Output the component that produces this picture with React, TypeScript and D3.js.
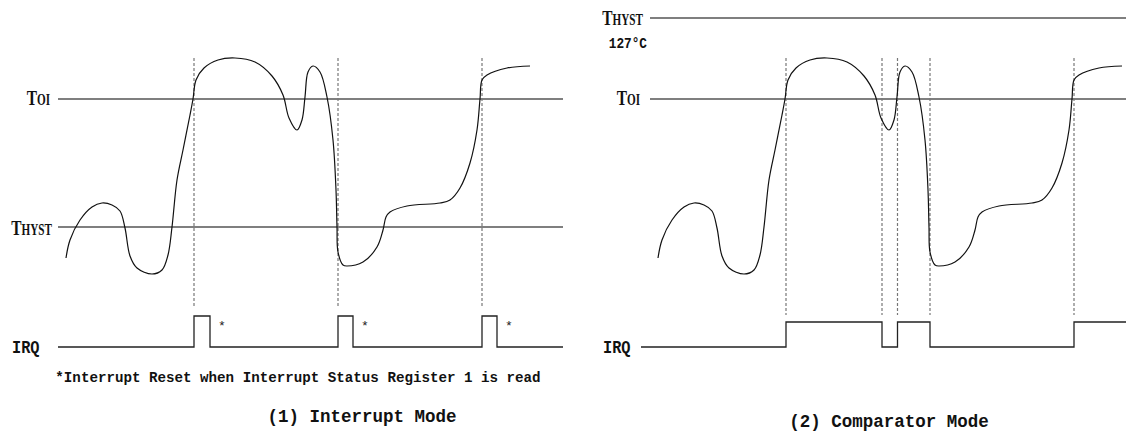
import * as d3 from "d3";
import { useEffect, useRef } from "react";

// temperature trace: [time, level]
// level units: T_OI = 100, T_HYST (interrupt mode) = 36
const traceTime = [
    8, 12, 22, 34, 44, 54, 62, 67, 72, 79, 94, 104, 110, 114, 119, 125, 132, 135, 138, 146,
    160, 177, 197, 214, 225, 231, 239, 244, 247, 250, 255, 262, 269, 275, 278, 279, 280, 285,
    289, 305, 319, 325, 328, 332, 349, 382, 392, 402, 412, 419, 422, 424, 429, 449, 472,
];
const traceLevel = [
    20.5, 29.5, 39.5, 46, 48, 47, 44, 35.5, 21.5, 15.5, 12.5, 14.5, 22, 36, 59.5, 74.5, 92, 100, 109.5, 115.5,
    119.5, 120.5, 118.5, 111.5, 102, 90.5, 84.5, 89.5, 101, 113.5, 116.5, 113.5, 101, 79.5, 54.5, 36, 23.5, 17,
    16.5, 18.5, 26, 34.5, 41, 43.5, 46.5, 48, 49.5, 55.5, 68, 84.5, 100, 109.5, 112, 115.5, 116.5,
];

const T_OI = 100;
const T_HYST_INT = 36;
const T_HYST_CMP = 140.5;

// events (dashed markers) per mode
const interruptEvents = [136, 280, 424];
const comparatorEvents = [136, 232, 247.5, 280, 424];

// IRQ high intervals
const interruptPulses = [[136, 152], [280, 295], [424, 439]];
const comparatorHigh = [[136, 232], [247.5, 280], [424, 480]];

const footnote = "*Interrupt Reset when Interrupt Status Register 1 is read";
const titles = ["(1) Interrupt Mode", "(2) Comparator Mode"];

const WIDTH = 1126;
const HEIGHT = 435;

const MONO = "'Liberation Mono', 'DejaVu Sans Mono', monospace";
const SERIF = "'Liberation Serif', 'DejaVu Serif', serif";

function App() {
    const svgRef = useRef<SVGSVGElement | null>(null);

    useEffect(() => {
        if (!svgRef.current) return;
        const svg = d3.select(svgRef.current);
        svg.selectAll("*").remove();

        const y = d3.scaleLinear().domain([36, 100]).range([227, 99]);
        const irqLow = 347;

        const points = traceTime.map((t, i) => [t, traceLevel[i]] as [number, number]);

        const drawPanel = (originX: number, endX: number, mode: "int" | "cmp") => {
            const x = d3.scaleLinear().domain([0, 100]).range([originX, originX + 100]);
            const g = svg.append("g");

            // reference levels
            const levelLine = (lvl: number) =>
                g.append("line")
                    .attr("x1", x(0)).attr("x2", endX)
                    .attr("y1", y(lvl)).attr("y2", y(lvl))
                    .attr("stroke", "#555").attr("stroke-width", 1.3);

            // condensed "T" + small caps subscript label
            const tLabel = (sub: string, right: number, yy: number) => {
                const t = g.append("g")
                    .attr("transform", `translate(${right},${yy}) scale(0.7,1)`)
                    .append("text")
                    .attr("text-anchor", "end")
                    .attr("font-family", SERIF)
                    .attr("font-weight", "bold")
                    .attr("fill", "#111");
                t.append("tspan").attr("font-size", 22).text("T");
                t.append("tspan").attr("font-size", 16).text(sub);
            };

            levelLine(T_OI);
            if (mode === "int") {
                levelLine(T_HYST_INT);
                tLabel("OI", x(-8), y(T_OI) + 6);
                tLabel("HYST", x(-6), y(T_HYST_INT) + 8);
            } else {
                levelLine(T_HYST_CMP);
                tLabel("OI", x(-10), y(T_OI) + 6);
                tLabel("HYST", x(-7), y(T_HYST_CMP) + 7);
                g.append("g")
                    .attr("transform", `translate(${x(-3)},48) scale(0.85,1)`)
                    .append("text")
                    .attr("text-anchor", "end")
                    .attr("font-family", MONO)
                    .attr("font-weight", "bold")
                    .attr("font-size", 15)
                    .attr("fill", "#111")
                    .text("127°C");
            }

            // event markers
            const events = mode === "int" ? interruptEvents : comparatorEvents;
            const dashBottom = mode === "int" ? 308 : 315;
            g.selectAll(".ev")
                .data(events)
                .enter()
                .append("line")
                .attr("x1", d => x(d)).attr("x2", d => x(d))
                .attr("y1", 58).attr("y2", dashBottom)
                .attr("stroke", "#777")
                .attr("stroke-width", 1.2)
                .attr("stroke-dasharray", "3,2");

            // temperature trace
            const line = d3.line<[number, number]>()
                .x(d => x(d[0]))
                .y(d => y(d[1]))
                .curve(d3.curveCatmullRom.alpha(0.5));
            g.append("path")
                .attr("d", line(points) ?? "")
                .attr("fill", "none")
                .attr("stroke", "#111")
                .attr("stroke-width", 1.2);

            // IRQ waveform
            const highY = mode === "int" ? 316 : 322;
            const startT = mode === "int" ? 0 : -9;
            const endT = mode === "int" ? 505 : 480;
            const spans = mode === "int" ? interruptPulses : comparatorHigh;
            const wave: [number, number][] = [[startT, irqLow]];
            spans.forEach(([a, b]) => {
                wave.push([a, irqLow], [a, highY], [Math.min(b, endT), highY]);
                if (b < endT) wave.push([b, irqLow]);
            });
            if (spans[spans.length - 1][1] < endT) wave.push([endT, irqLow]);
            g.append("path")
                .attr("d", d3.line<[number, number]>().x(d => x(d[0])).y(d => d[1])(wave) ?? "")
                .attr("fill", "none")
                .attr("stroke", "#222")
                .attr("stroke-width", 1.3);

            g.append("g")
                .attr("transform", `translate(${x(mode === "int" ? -46 : -47)},${irqLow + 6}) scale(0.85,1)`)
                .append("text")
                .attr("font-family", MONO)
                .attr("font-weight", "bold")
                .attr("font-size", 18)
                .attr("fill", "#111")
                .text("IRQ");

            if (mode === "int") {
                g.selectAll(".star")
                    .data(interruptPulses)
                    .enter()
                    .append("text")
                    .attr("x", d => x(d[1] + 12))
                    .attr("y", 330)
                    .attr("text-anchor", "middle")
                    .attr("font-family", MONO)
                    .attr("font-size", 13)
                    .attr("fill", "#222")
                    .text("*");

                g.append("text")
                    .attr("x", 298).attr("y", 382)
                    .attr("text-anchor", "middle")
                    .attr("font-family", MONO)
                    .attr("font-weight", "bold")
                    .attr("font-size", 14.2)
                    .attr("fill", "#111")
                    .text(footnote);
            }

            g.append("text")
                .attr("x", mode === "int" ? 362 : 889)
                .attr("y", mode === "int" ? 422 : 427)
                .attr("text-anchor", "middle")
                .attr("font-family", MONO)
                .attr("font-weight", "bold")
                .attr("font-size", 17.5)
                .attr("fill", "#111")
                .text(titles[mode === "int" ? 0 : 1]);
        };

        drawPanel(58, 563, "int");
        drawPanel(650, WIDTH, "cmp");
    }, []);

    return (
        <svg
            ref={svgRef}
            width={WIDTH}
            height={HEIGHT}
            style={{ position: "absolute", left: 0, top: 0, background: "#fff" }}
        />
    );
}

export default App;
